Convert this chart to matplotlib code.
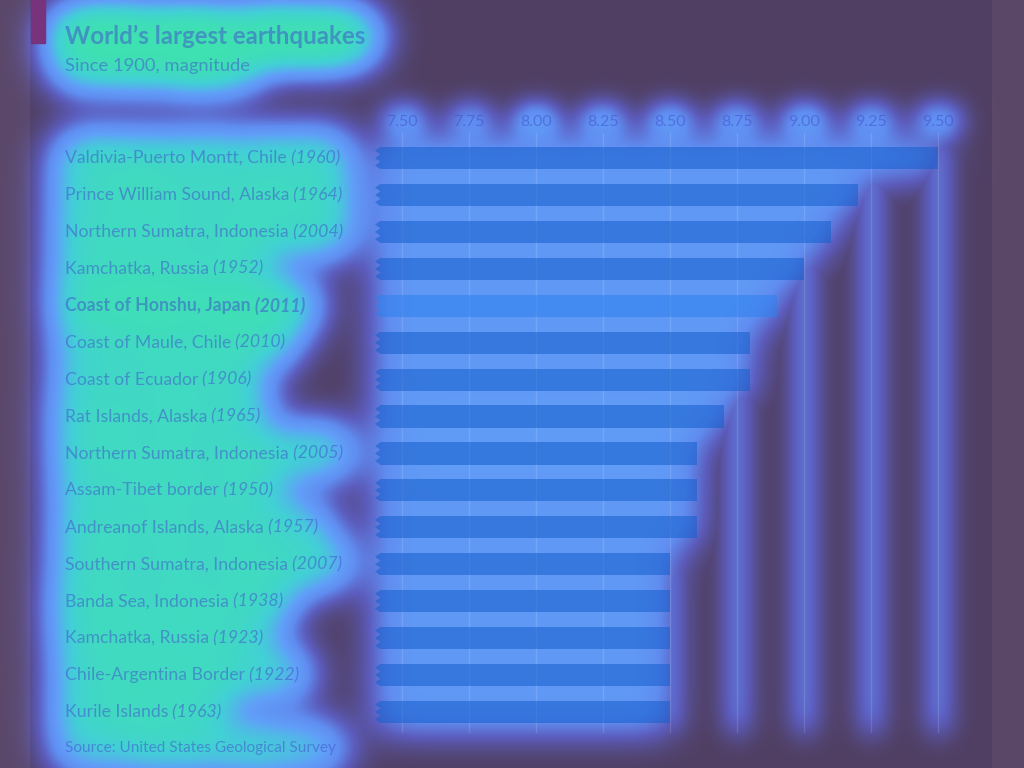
import numpy as np
import matplotlib
matplotlib.use("Agg")
import matplotlib.pyplot as plt
from matplotlib.patches import Polygon, Rectangle

places = [
    "Valdivia-Puerto Montt, Chile", "Prince William Sound, Alaska",
    "Northern Sumatra, Indonesia", "Kamchatka, Russia", "Coast of Honshu, Japan",
    "Coast of Maule, Chile", "Coast of Ecuador", "Rat Islands, Alaska",
    "Northern Sumatra, Indonesia", "Assam-Tibet border", "Andreanof Islands, Alaska",
    "Southern Sumatra, Indonesia", "Banda Sea, Indonesia", "Kamchatka, Russia",
    "Chile-Argentina Border", "Kurile Islands",
]
years = [1960, 1964, 2004, 1952, 2011, 2010, 1906, 1965,
         2005, 1950, 1957, 2007, 1938, 1923, 1922, 1963]
magnitudes = [9.5, 9.2, 9.1, 9.0, 8.9, 8.8, 8.8, 8.7,
              8.6, 8.6, 8.6, 8.5, 8.5, 8.5, 8.5, 8.5]
highlight = "Coast of Honshu, Japan"
ticks = [7.50, 7.75, 8.00, 8.25, 8.50, 8.75, 9.00, 9.25, 9.50]
x_start = 7.4

W, H = 1024, 768
plt.rcParams['font.family'] = ['Lato', 'DejaVu Sans']
text_col = (0.25, 0.30, 0.80, 0.5)

fig = plt.figure(figsize=(W / 100, H / 100), dpi=100)
ax = fig.add_axes([375 / W, 35 / H, 590 / W, 600 / H], zorder=1)
ax.set_facecolor('none')
for s in ax.spines.values():
    s.set_visible(False)
rows = np.arange(len(places))
ax.set_xlim(x_start, 9.6)
ax.set_ylim(15.57, -0.68)
ax.set_yticks([])
ax.xaxis.tick_top()
ax.set_xticks(ticks, [f"{t:.2f}" for t in ticks])
ax.tick_params(axis='x', length=0, pad=3, labelsize=11.5, labelcolor=text_col)
ax.set_axisbelow(True)

# jagged left edge of the bars (axis does not start at zero)
zy = np.arange(-1, 17.01, 0.1)
zx = x_start + np.where(np.arange(len(zy)) % 2 == 0, 0.0, 0.02)
clip = Polygon(np.column_stack([np.r_[zx, 10, 10], np.r_[zy, zy[-1], zy[0]]]),
               closed=True, transform=ax.transData)

bar_colors = ['#2c80ee' if p == highlight else '#145ecc' for p in places]
bars = ax.barh(rows, np.array(magnitudes) - x_start, left=x_start, height=0.6,
               color=bar_colors, alpha=0.55)
for b in bars:
    b.set_clip_path(clip)

labels = []
for i, (p, y) in enumerate(zip(places, years)):
    w = 'bold' if p == highlight else 'normal'
    t1 = ax.annotate(p, xy=(65, i), xycoords=('figure pixels', 'data'),
                     va='center', ha='left', fontsize=12.7, fontweight=w, color=text_col)
    t2 = ax.annotate(f" ({y})", xy=(1, 0.5), xycoords=t1, va='center', ha='left',
                     fontsize=12.7, fontweight=w, style='italic', color=text_col)
    labels += [t1, t2]

labels.append(fig.text(65 / W, 1 - 36 / H, "World’s largest earthquakes", fontsize=17.4,
                       fontweight='bold', va='center', color=text_col))
labels.append(fig.text(65 / W, 1 - 66 / H, "Since 1900, magnitude", fontsize=13.2,
                       va='center', color=text_col))
labels.append(fig.text(65 / W, 1 - 748 / H, "Source: United States Geological Survey",
                       fontsize=11.1, va='center', color=text_col))

mark = Rectangle((31 / W, 1 - 43 / H), 14 / W, 43 / H, transform=fig.transFigure,
                 color=(0.47, 0.20, 0.49), zorder=5)
fig.add_artist(mark)


def grab():
    fig.canvas.draw()
    return np.asarray(fig.canvas.buffer_rgba())[..., 3].astype(float) / 255


def blur(a, s):
    p = int(3 * s) + 1
    b = np.pad(a, p)
    ky = np.fft.fftfreq(b.shape[0])[:, None]
    kx = np.fft.rfftfreq(b.shape[1])[None, :]
    g = np.exp(-2 * (np.pi * s) ** 2 * (ky ** 2 + kx ** 2))
    out = np.fft.irfft2(np.fft.rfft2(b) * g, s=b.shape)
    return out[p:-p, p:-p]


# attention-style glow built from where the ink is
fig.patch.set_alpha(0)
mark.set_visible(False)
for b in bars:
    b.set_visible(False)
ax.tick_params(labeltop=False)
text_mask = grab()

for t in labels:
    t.set_visible(False)
ax.tick_params(labeltop=True)
tick_mask = grab()

ax.tick_params(labeltop=False)
for b in bars:
    b.set_visible(True)
bar_mask = grab()

for b in bars:
    b.set_visible(False)
ax.grid(True, axis='x', color='white', alpha=1, lw=1)
grid_mask = grab()

for t in labels:
    t.set_visible(True)
for b in bars:
    b.set_visible(True)
mark.set_visible(True)
ax.tick_params(labeltop=True)
ax.grid(True, axis='x', color='white', alpha=0.13, lw=1)

s = 32 * blur(text_mask, 22) + 12 * blur(tick_mask, 14) + 1.6 * blur(bar_mask, 20)
heat = 1 - np.exp(-1.6 * np.clip(s, 0, None))
heat = np.maximum(heat, 8 * blur(grid_mask, 14))
heat = np.clip(heat, 0, 1)

stops = [0.0, 0.25, 0.45, 0.62, 0.82, 1.0]
wanted = np.array([(80, 63, 98), (92, 92, 188), (96, 140, 240),
                   (96, 160, 250), (66, 208, 214), (62, 228, 172)], float)
panel = np.array([185, 200, 210], float)
a = 0.85
cols = np.clip((wanted - (1 - a) * panel) / a, 0, 255)
over = np.stack([np.interp(heat, stops, cols[:, k]) for k in range(3)], axis=-1)
base = np.empty((H, W, 3))
base[:] = panel
base[:, :30] = 255
base[:, 992:] = 255
img = ((1 - a) * base + a * over) / 255

hx = fig.add_axes([0, 0, 1, 1], zorder=-1)
hx.imshow(np.clip(img, 0, 1), aspect='auto', interpolation='none')
hx.axis('off')
fig.patch.set_alpha(1)

fig.savefig('out.png', dpi=100)
